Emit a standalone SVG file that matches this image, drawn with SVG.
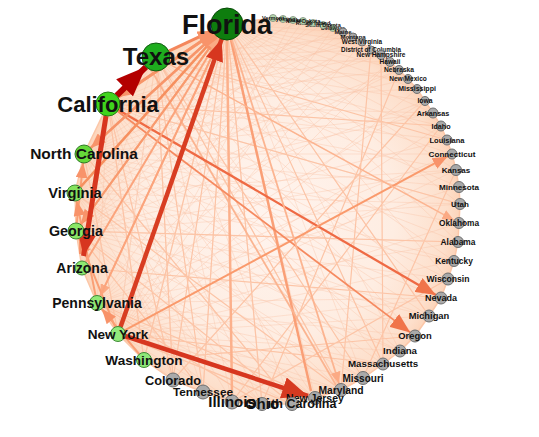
<svg xmlns="http://www.w3.org/2000/svg" width="539" height="437" viewBox="0 0 539 437">
<style>
.lbl{font-family:"Liberation Sans",Arial,Helvetica,sans-serif;font-weight:bold;text-anchor:middle;fill:#111}
.g{fill:#a9a9a9;stroke:#707070;stroke-width:1}
.t{fill:#b8d8b0;stroke:#7a8a78;stroke-width:0.8}
.e{fill:none}
.fan{fill:none;stroke:#fbc2a4;stroke-width:0.9;opacity:0.42}
.lt{fill:none;stroke:#fcc4a6;stroke-width:1.2}
</style>
<defs>
<radialGradient id="bg" cx="267" cy="214" r="196" gradientUnits="userSpaceOnUse">
<stop offset="0" stop-color="#fff4ee"/>
<stop offset="0.65" stop-color="#feede2"/>
<stop offset="0.92" stop-color="#fddfcb"/>
<stop offset="1" stop-color="#fcd1b5"/>
</radialGradient>
<marker id="a7" markerUnits="userSpaceOnUse" markerWidth="30" markerHeight="24" refX="30" refY="12" orient="auto"><path d="M0,0L30,12L0,24z" fill="#b30000"/></marker>
<marker id="a6" markerUnits="userSpaceOnUse" markerWidth="22" markerHeight="18" refX="22" refY="9" orient="auto"><path d="M0,0L22,9L0,18z" fill="#d7361f"/></marker>
<marker id="a6b" markerUnits="userSpaceOnUse" markerWidth="26" markerHeight="22" refX="26" refY="11" orient="auto"><path d="M0,0L26,11L0,22z" fill="#d63a20"/></marker>
<marker id="a4" markerUnits="userSpaceOnUse" markerWidth="20" markerHeight="16" refX="20" refY="8" orient="auto"><path d="M0,0L20,8L0,16z" fill="#f0744a"/></marker>
<marker id="a3" markerUnits="userSpaceOnUse" markerWidth="15" markerHeight="12" refX="15" refY="6" orient="auto"><path d="M0,0L15,6L0,12z" fill="#f8936a"/></marker>
<marker id="a2" markerUnits="userSpaceOnUse" markerWidth="12" markerHeight="10" refX="12" refY="5" orient="auto"><path d="M0,0L12,5L0,10z" fill="#fbaa84"/></marker>
</defs>
<g id="edges">
<polygon points="227,24 273,18 283,19 293,20 303,21 313,23 323,25 333,28 343,32 353,37 362,42 371,50 381,55 390,62 399,70 408,79 417,89 425,101 433,113 441,126 447,140 452,154 456,170 459,187 460,204 459,223 458,242 454,261 448,279 441,298 429,316 415,336 400,351 383,364 363,378 341,390 315,398 292,404 262,404 232,402 203,392 173,380 144,360 118,334 97,303 82,268 76,231 75,193 84,154 108,104 156,57" fill="url(#bg)" stroke="#fcc7a8" stroke-width="1.5"/>
<path class="fan" d="M227 24L343 32M227 24L362 42M227 24L381 55M227 24L399 70M227 24L417 89M227 24L433 113M227 24L447 140M227 24L456 170M227 24L460 204M227 24L458 242M227 24L448 279M227 24L429 316M227 24L400 351M227 24L363 378M227 24L315 398M227 24L262 404M227 24L203 392M227 24L144 360M227 24L97 303M227 24L76 231M227 24L84 154"/>
<path class="fan" d="M156 57L353 37M156 57L371 50M156 57L390 62M156 57L408 79M156 57L425 101M156 57L441 126M156 57L452 154M156 57L459 187M156 57L459 223M156 57L454 261M156 57L441 298M156 57L415 336M156 57L383 364M156 57L341 390M156 57L292 404M156 57L232 402M156 57L173 380M156 57L118 334M156 57L82 268M156 57L75 193"/>
<path class="fan" d="M108 104L303 21M108 104L343 32M108 104L362 42M108 104L381 55M108 104L399 70M108 104L417 89M108 104L433 113M108 104L447 140M108 104L456 170M108 104L460 204M108 104L458 242M108 104L448 279M108 104L429 316M108 104L400 351M108 104L363 378M108 104L315 398M108 104L262 404M108 104L203 392M108 104L144 360M108 104L97 303"/>
<path class="fan" d="M118 334L293 20M118 334L333 28M118 334L362 42M118 334L390 62M118 334L417 89M118 334L441 126M118 334L456 170M118 334L459 223M118 334L454 261M118 334L441 298M118 334L429 316M118 334L400 351M118 334L363 378M118 334L341 390M118 334L292 404M118 334L232 402M118 334L173 380M118 334L76 231M118 334L84 154M118 334L156 57"/>
<path class="fan" d="M84 154L283 19M84 154L323 25M84 154L353 37M84 154L381 55M84 154L408 79M84 154L433 113M84 154L452 154M84 154L459 187M84 154L459 223M84 154L454 261M84 154L441 298M84 154L415 336M84 154L383 364M84 154L341 390M84 154L292 404M84 154L232 402M84 154L173 380"/>
<path class="fan" d="M76 231L273 18M76 231L313 23M76 231L343 32M76 231L371 50M76 231L399 70M76 231L425 101M76 231L447 140M76 231L456 170M76 231L460 204M76 231L458 242M76 231L448 279M76 231L429 316M76 231L400 351M76 231L363 378M76 231L315 398M76 231L262 404M76 231L203 392"/>
<path class="fan" d="M97 303L303 21M97 303L353 37M97 303L390 62M97 303L425 101M97 303L452 154M97 303L459 187M97 303L458 242M97 303L441 298M97 303L415 336M97 303L383 364M97 303L341 390M97 303L292 404M97 303L232 402"/>
<path class="fan" d="M75 193L293 20M75 193L333 28M75 193L362 42M75 193L399 70M75 193L433 113M75 193L456 170M75 193L460 204M75 193L454 261M75 193L429 316M75 193L400 351M75 193L363 378M75 193L315 398M75 193L262 404M75 193L203 392"/>
<path class="lt" d="M156 57L341 390M156 57L363 378M227 24L383 364M227 24L262 404M227 24L429 316M227 24L203 392M227 24L173 380M227 24L144 360M108 104L144 360M108 104L173 380M108 104L441 126M108 104L460 204M156 57L173 380M156 57L447 140M156 57L203 392M118 334L383 364M118 334L292 404M118 334L84 154M84 154L292 404M75 193L341 390M76 231L458 242M76 231L292 404M76 231L203 392M82 268L441 298M97 303L315 398M97 303L262 404M144 360L415 336M371 50L341 390M381 55L383 364M232 402L448 279M456 170L363 378M425 101L173 380M441 126L232 402M399 70L262 404"/>
<path class="e" stroke="#fcb08b" stroke-width="2.5" d="M227 40L232 395"/>
<path class="e" stroke="#fa9f76" stroke-width="2.5" d="M231 40L311 391"/>
<path class="e" stroke="#fbb490" stroke-width="1.8" d="M150 68L336 385"/>
<path class="e" stroke="#ef6a44" stroke-width="2.3" marker-end="url(#a4)" d="M118.4 110L435.8 295"/>
<path class="e" stroke="#fa9a6c" stroke-width="2" marker-end="url(#a3)" d="M124.6 330.4L447.6 156.4"/>
<path class="e" stroke="#f68a60" stroke-width="1.8" marker-end="url(#a4)" d="M117.6 111.2L410.2 332.4"/>
<path class="e" stroke="#fcb490" stroke-width="1.4" marker-end="url(#a2)" d="M168.3 63.7L454.2 220.4"/>
<path class="e" stroke="#fcb490" stroke-width="1.8" marker-end="url(#a2)" d="M231.8 39.3L339.1 383.8"/>
<path class="e" stroke="#f9a070" stroke-width="2.5" marker-end="url(#a3)" d="M213.7 32.9L118 97.3"/>
<path class="e" stroke="#f9a070" stroke-width="2" marker-end="url(#a3)" d="M215 34.8L90.7 147.9"/>
<path class="e" stroke="#fba47c" stroke-width="2" marker-end="url(#a3)" d="M217.6 36.9L80.7 224.5"/>
<path class="e" stroke="#fcae88" stroke-width="1.5" marker-end="url(#a2)" d="M220.2 38.5L100.2 296.2"/>
<path class="e" stroke="#fa9f74" stroke-width="2" marker-end="url(#a3)" d="M76.8 223L83.1 163"/>
<path class="e" stroke="#fa9f74" stroke-width="2" marker-end="url(#a3)" d="M95.6 295.6L76.6 200.8"/>
<path class="e" stroke="#fa9f74" stroke-width="2" marker-end="url(#a3)" d="M115.2 327.1L79 238.4"/>
<path class="e" stroke="#fa9f74" stroke-width="2" marker-end="url(#a3)" d="M139.2 354.2L101.8 308.8"/>
<path class="e" stroke="#f4875c" stroke-width="3" marker-end="url(#a3)" d="M168.7 51.1L212.5 30.7"/>
<path class="e" stroke="#f79468" stroke-width="3" marker-end="url(#a3)" d="M118 97.3L213.7 32.9"/>
<path class="e" stroke="#f6905f" stroke-width="2.5" marker-end="url(#a3)" d="M80.4 187.1L216.3 35.9"/>
<path class="e" stroke="#f89a6e" stroke-width="2" marker-end="url(#a3)" d="M80.7 224.5L217.6 36.9"/>
<path class="e" stroke="#f7956a" stroke-width="2.5" marker-end="url(#a3)" d="M90.7 147.9L215.2 34.8"/>
<path class="e" stroke="#fba47c" stroke-width="2" marker-end="url(#a2)" d="M100.2 296.2L220.2 38.5"/>
<path class="e" stroke="#fba47c" stroke-width="2" marker-end="url(#a2)" d="M85.6 262L218.8 37.8"/>
<path class="e" stroke="#d7361f" stroke-width="5" marker-end="url(#a6)" d="M106 116L83.5 256"/>
<path class="e" stroke="#d83d22" stroke-width="4.5" marker-end="url(#a6)" d="M120.5 327L221.7 39"/>
<path class="e" stroke="#d7361f" stroke-width="4.5" marker-end="url(#a6b)" d="M125 336L308 396"/>
<path class="e" stroke="#b30000" stroke-width="6" marker-end="url(#a7)" d="M116.6 95.6L146 66.8"/>
</g>
<g id="n-delaware"><circle class="t" cx="333" cy="28" r="3.5"/><text class="lbl" x="333" y="30" font-size="5.5">Delaware</text></g>
<g id="n-south-dakota"><circle class="t" cx="323" cy="25" r="3.5"/><text class="lbl" x="323" y="27" font-size="5.5">South Dakota</text></g>
<g id="n-rhode-island"><circle class="t" cx="313" cy="23" r="3.5"/><text class="lbl" x="313" y="25" font-size="5.5">Rhode Island</text></g>
<g id="n-north-dakota"><circle class="t" cx="303" cy="21" r="3.5"/><text class="lbl" x="303" y="23" font-size="5.5">North Dakota</text></g>
<g id="n-alaska"><circle class="t" cx="293" cy="20" r="3.5"/><text class="lbl" x="293" y="22" font-size="5.5">Alaska</text></g>
<g id="n-wyoming"><circle class="t" cx="283" cy="19" r="3.5"/><text class="lbl" x="283" y="21" font-size="5.5">Wyoming</text></g>
<g id="n-vermont"><circle class="t" cx="273" cy="18" r="3.5"/><text class="lbl" x="273" y="20" font-size="5.5">Vermont</text></g>
<g id="n-maine"><circle class="g" cx="343" cy="32" r="4"/><text class="lbl" x="343" y="34" font-size="6">Maine</text></g>
<g id="n-montana"><circle class="g" cx="353" cy="37" r="4"/><text class="lbl" x="353" y="39" font-size="6.1">Montana</text></g>
<g id="n-west-virginia"><circle class="g" cx="362" cy="42" r="4"/><text class="lbl" x="362" y="44.3" font-size="6.4">West Virginia</text></g>
<g id="n-dc"><circle class="g" cx="371" cy="50" r="4"/><text class="lbl" x="371" y="52.2" font-size="6.3">District of Columbia</text></g>
<g id="n-new-hampshire"><circle class="g" cx="381" cy="55" r="4.5"/><text class="lbl" x="381" y="57.3" font-size="6.5">New Hampshire</text></g>
<g id="n-hawaii"><circle class="g" cx="390" cy="62" r="4.5"/><text class="lbl" x="390" y="64.3" font-size="6.6">Hawaii</text></g>
<g id="n-nebraska"><circle class="g" cx="399" cy="70" r="4.5"/><text class="lbl" x="399" y="72.3" font-size="6.7">Nebraska</text></g>
<g id="n-new-mexico"><circle class="g" cx="408" cy="79" r="4.5"/><text class="lbl" x="408" y="81.3" font-size="6.6">New Mexico</text></g>
<g id="n-mississippi"><circle class="g" cx="417" cy="89" r="4.5"/><text class="lbl" x="417" y="91.4" font-size="7">Mississippi</text></g>
<g id="n-iowa"><circle class="g" cx="425" cy="101" r="4.5"/><text class="lbl" x="425" y="103.4" font-size="6.8">Iowa</text></g>
<g id="n-arkansas"><circle class="g" cx="433" cy="113" r="5"/><text class="lbl" x="433" y="115.5" font-size="7.2">Arkansas</text></g>
<g id="n-idaho"><circle class="g" cx="441" cy="126" r="5"/><text class="lbl" x="441" y="128.5" font-size="7.2">Idaho</text></g>
<g id="n-louisiana"><circle class="g" cx="447" cy="140" r="5"/><text class="lbl" x="447" y="142.6" font-size="7.5">Louisiana</text></g>
<g id="n-connecticut"><circle class="g" cx="452" cy="154" r="5"/><text class="lbl" x="452" y="156.8" font-size="8.1">Connecticut</text></g>
<g id="n-kansas"><circle class="g" cx="456" cy="170" r="5.5"/><text class="lbl" x="456" y="172.8" font-size="8">Kansas</text></g>
<g id="n-minnesota"><circle class="g" cx="459" cy="187" r="5.5"/><text class="lbl" x="459" y="189.8" font-size="8.1">Minnesota</text></g>
<g id="n-utah"><circle class="g" cx="460" cy="204" r="5.5"/><text class="lbl" x="460" y="206.8" font-size="8">Utah</text></g>
<g id="n-oklahoma"><circle class="g" cx="459" cy="223" r="5.5"/><text class="lbl" x="459" y="225.9" font-size="8.3">Oklahoma</text></g>
<g id="n-alabama"><circle class="g" cx="458" cy="242" r="5.5"/><text class="lbl" x="458" y="244.9" font-size="8.4">Alabama</text></g>
<g id="n-kentucky"><circle class="g" cx="454" cy="261" r="5.5"/><text class="lbl" x="454" y="263.9" font-size="8.4">Kentucky</text></g>
<g id="n-wisconsin"><circle class="g" cx="448" cy="279" r="6"/><text class="lbl" x="448" y="282" font-size="8.6">Wisconsin</text></g>
<g id="n-nevada"><circle class="g" cx="441" cy="298" r="6"/><text class="lbl" x="441" y="301.2" font-size="9">Nevada</text></g>
<g id="n-michigan"><circle class="g" cx="429" cy="316" r="6"/><text class="lbl" x="429" y="319.3" font-size="9.4">Michigan</text></g>
<g id="n-oregon"><circle class="g" cx="415" cy="336" r="6"/><text class="lbl" x="415" y="339.3" font-size="9.4">Oregon</text></g>
<g id="n-indiana"><circle class="g" cx="400" cy="351" r="6"/><text class="lbl" x="400" y="354.4" font-size="9.7">Indiana</text></g>
<g id="n-massachusetts"><circle class="g" cx="383" cy="364" r="6"/><text class="lbl" x="383" y="367.4" font-size="9.8">Massachusetts</text></g>
<g id="n-missouri"><circle class="g" cx="363" cy="378" r="6.5"/><text class="lbl" x="363" y="381.5" font-size="10">Missouri</text></g>
<g id="n-maryland"><circle class="g" cx="341" cy="390" r="6.5"/><text class="lbl" x="341" y="393.6" font-size="10.3">Maryland</text></g>
<g id="n-new-jersey"><circle class="g" cx="315" cy="398" r="6.5"/><text class="lbl" x="315" y="401.7" font-size="10.5">New Jersey</text></g>
<g id="n-south-carolina"><circle class="g" cx="292" cy="404" r="6.5"/><text class="lbl" x="292" y="408.4" font-size="12.5">South Carolina</text></g>
<g id="n-ohio"><circle class="g" cx="262" cy="404" r="6.5"/><text class="lbl" x="262" y="409.2" font-size="15">Ohio</text></g>
<g id="n-illinois"><circle class="g" cx="232" cy="402" r="7"/><text class="lbl" x="232" y="407.2" font-size="15">Illinois</text></g>
<g id="n-tennessee"><circle class="g" cx="203" cy="392" r="7"/><text class="lbl" x="203" y="396.1" font-size="11.8">Tennessee</text></g>
<g id="n-colorado"><circle class="g" cx="173" cy="380" r="7"/><text class="lbl" x="173" y="384.5" font-size="12.8">Colorado</text></g>
<g id="n-washington"><circle cx="144" cy="360" r="7.5" fill="#8ee878" stroke="#3f8a35" stroke-width="1"/><text class="lbl" x="144" y="364.8" font-size="13.6">Washington</text></g>
<g id="n-new-york"><circle cx="118" cy="334" r="7.5" fill="#92ea7c" stroke="#3f8a35" stroke-width="1"/><text class="lbl" x="118" y="338.8" font-size="13.6">New York</text></g>
<g id="n-pennsylvania"><circle cx="97" cy="303" r="7.5" fill="#90e876" stroke="#3f8a35" stroke-width="1"/><text class="lbl" x="97" y="307.9" font-size="14">Pennsylvania</text></g>
<g id="n-arizona"><circle cx="82" cy="268" r="7" fill="#8ee870" stroke="#3f8a35" stroke-width="1"/><text class="lbl" x="82" y="272.9" font-size="14">Arizona</text></g>
<g id="n-georgia"><circle cx="76" cy="231" r="8" fill="#8ae666" stroke="#3f8a35" stroke-width="1"/><text class="lbl" x="76" y="236" font-size="14.3">Georgia</text></g>
<g id="n-virginia"><circle cx="75" cy="193" r="8" fill="#86e25e" stroke="#3f8a35" stroke-width="1"/><text class="lbl" x="75" y="198.1" font-size="14.7">Virginia</text></g>
<g id="n-north-carolina"><circle cx="84" cy="154" r="9" fill="#66d93a" stroke="#2f7a25" stroke-width="1"/><text class="lbl" x="84" y="159.4" font-size="15.5">North Carolina</text></g>
<g id="n-california"><circle cx="108" cy="104" r="12" fill="#3fd41c" stroke="#257a15" stroke-width="1"/><text class="lbl" x="108" y="111.7" font-size="22">California</text></g>
<g id="n-texas"><circle cx="156" cy="57" r="14" fill="#1ead1e" stroke="#125c12" stroke-width="1"/><text class="lbl" x="156" y="65.4" font-size="24">Texas</text></g>
<g id="n-florida"><circle cx="227" cy="24" r="16" fill="#0e7d0e" stroke="#064a06" stroke-width="1"/><text class="lbl" x="227" y="33.5" font-size="27">Florida</text></g>
</svg>
